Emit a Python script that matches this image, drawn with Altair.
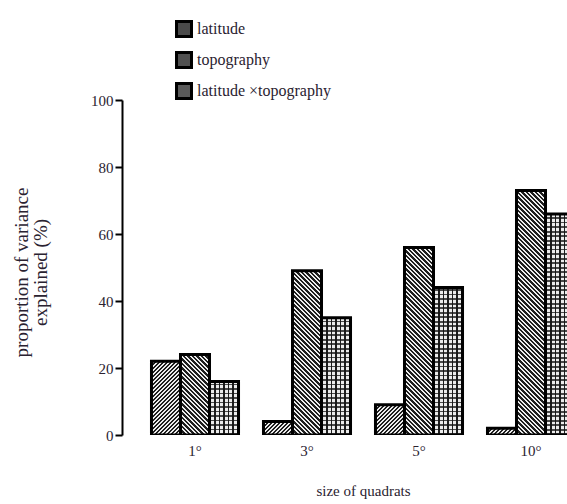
import altair as alt

sizes = ["1°", "3°", "5°", "10°"]
factors = ["latitude", "topography", "latitude ×topography"]
latitude = [22, 4, 9, 2]
topography = [24, 49, 56, 73]
interaction = [16, 35, 44, 66]
legend_fills = ["#4a4a4a", "#505050", "#5a5a5a"]
y_ticks = [0, 20, 40, 60, 80, 100]

W, H = 445, 335
BAR_W = 112 / 3.86   # pixel width of one bar (style only)
DARK, LIGHT = "#1e1e1e", "#ececec"


def stripes(extent, period, dark_frac, dark=DARK, light=LIGHT):
    """Hard-edged stops along t in [0,1] covering `extent` pixels."""
    stops = []
    dt = period / extent
    k = 0
    while k * dt < 1:
        a = k * dt
        b = min(1, a + dark_frac * dt)
        c = min(1, (k + 1) * dt)
        stops += [{"offset": a, "color": dark}, {"offset": b, "color": dark},
                  {"offset": b, "color": light}, {"offset": c, "color": light}]
        k += 1
    return stops


def diag(h, w, up, period, frac):
    a = (w + h) * w / (w * w + h * h)
    b = (w + h) * h / (w * w + h * h)
    g = {"gradient": "linear", "stops": stripes(w + h, period, frac)}
    if up:   # "/" lines
        g.update({"x1": 0, "y1": 0, "x2": a, "y2": b})
    else:    # "\" lines
        g.update({"x1": 0, "y1": 1, "x2": a, "y2": 1 - b})
    return g


def vert(w, period, frac):
    return {"gradient": "linear", "x1": 0, "y1": 0, "x2": 1, "y2": 0,
            "stops": stripes(w, period, frac)}


def horiz(h, period, frac):
    return {"gradient": "linear", "x1": 0, "y1": 1, "x2": 0, "y2": 0,
            "stops": stripes(h, period, frac, dark="rgba(20,20,20,0.75)",
                             light="rgba(255,255,255,0)")}


rows = []
for i, s in enumerate(sizes):
    for f, vals in zip(factors, [latitude, topography, interaction]):
        v = vals[i]
        h = max(v * H / 100, 1)
        if f == "latitude":
            pat, pat2 = diag(h, BAR_W, True, 4.0, 0.55), None
        elif f == "topography":
            pat, pat2 = diag(h, BAR_W, False, 4.5, 0.45), None
        else:
            pat, pat2 = vert(BAR_W, 4.5, 0.4), horiz(h, 4.5, 0.4)
        rows.append({"size": s, "factor": f, "value": v, "pat": pat, "pat2": pat2})

data = alt.Data(values=rows)
FONT = "Liberation Serif"
TXT = "#2a2230"

x_enc = alt.X(
    "size:N", sort=sizes,
    scale=alt.Scale(range=[17, 465], paddingInner=0, paddingOuter=0),
    axis=alt.Axis(title="size of quadrats", domain=False, ticks=False, labelAngle=0,
                  labelPadding=8, labelFont=FONT, labelFontSize=15, labelColor=TXT,
                  titleFont=FONT, titleFontSize=15, titleFontWeight="normal",
                  titleColor=TXT, titlePadding=25),
)
xo_enc = alt.XOffset("factor:N", sort=factors,
                     scale=alt.Scale(paddingOuter=0.43, paddingInner=0))
y_enc = alt.Y(
    "value:Q", scale=alt.Scale(domain=[0, 100]),
    axis=alt.Axis(values=y_ticks, grid=False, domainColor="black", domainWidth=2,
                  tickColor="black", tickWidth=2, tickSize=7, labelPadding=2,
                  labelFont=FONT, labelFontSize=15, labelColor=TXT,
                  title=["proportion of variance", "explained (%)"],
                  titleFont=FONT, titleFontSize=19, titleFontWeight="normal",
                  titleColor=TXT, titleX=-101, titleY=172, titleBaseline="middle",
                  titleLineHeight=19),
)

base = alt.Chart(data).mark_bar(clip=True).encode(
    x=x_enc, xOffset=xo_enc, y=y_enc,
    fill=alt.Fill(
        "factor:N", sort=factors,
        scale=alt.Scale(domain=factors, range=legend_fills),
        legend=alt.Legend(orient="none", legendX=53, legendY=-80, title=None,
                          symbolType="square", symbolSize=225, symbolStrokeColor="black",
                          symbolStrokeWidth=3, labelFont=FONT, labelFontSize=16,
                          labelColor=TXT, rowPadding=3, labelOffset=4),
    ),
)

pattern = alt.Chart(data).mark_bar(clip=True).encode(
    x=x_enc, xOffset=xo_enc, y=y_enc,
    fill=alt.Fill("pat:N", scale=None, legend=None),
)

pattern2 = alt.Chart(data).transform_filter(
    alt.datum.factor == "latitude ×topography"
).mark_bar(clip=True).encode(
    x=x_enc, xOffset=xo_enc, y=y_enc,
    fill=alt.Fill("pat2:N", scale=None, legend=None),
)

outline = alt.Chart(data).mark_bar(clip=True, fillOpacity=0, stroke="black",
                                   strokeWidth=3).encode(
    x=x_enc, xOffset=xo_enc, y=y_enc,
)

chart = alt.layer(base, pattern, pattern2, outline).properties(
    width=W, height=H,
    autosize=alt.AutoSizeParams(type="none"),
    padding={"left": 122, "top": 100, "right": 0, "bottom": 69},
).configure_view(stroke=None)

chart.save("out.html", embed_options={"renderer": "svg", "actions": False})
